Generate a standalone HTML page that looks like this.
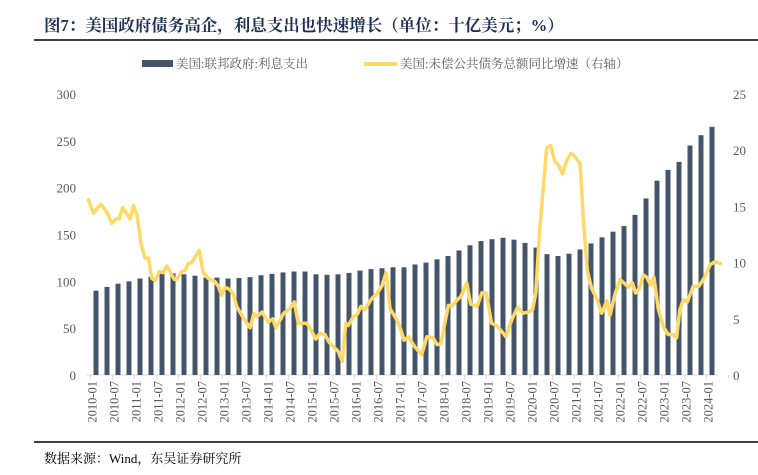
<!DOCTYPE html>
<html><head><meta charset="utf-8">
<style>
body{margin:0;background:#fff;}
svg text{font-family:"Liberation Serif","Noto Serif CJK SC",serif;}
</style></head>
<body>
<svg id="chart" width="758" height="470" viewBox="0 0 758 470" xmlns="http://www.w3.org/2000/svg">
<text x="44" y="31" font-size="16.5" font-weight="bold" fill="#1f3057">图7：美国政府债务高企，利息支出也快速增长（单位：十亿美元；%）</text>
<line x1="34" y1="40" x2="758" y2="40" stroke="#000" stroke-width="1.5"/>
<g>
<rect x="142" y="60" width="31" height="7" fill="#44546a"/>
<text x="176" y="68" font-size="12.5" fill="#595959">美国:联邦政府:利息支出</text>
<line x1="364" y1="64" x2="397" y2="64" stroke="#ffd966" stroke-width="4"/>
<text x="400" y="68" font-size="12.5" fill="#595959">美国:未偿公共债务总额同比增速（右轴）</text>
</g>
<g id="axes"></g>
<g id="bars"></g>
<g id="lines"></g>
<line x1="34" y1="442" x2="758" y2="442" stroke="#000" stroke-width="1.5"/>
<text x="44" y="463" font-size="13" fill="#000">数据来源：Wind，东吴证券研究所</text>
</svg>
<script>
const barValues=[90,94,97.5,100,103,105,108.5,108.5,107.5,106,104,104,103,103.5,104.5,106.5,108,109.5,110.5,110.5,107.5,107,107.5,109,111.5,113,114,115,115,118,120,123.5,127,133,138.5,143,145,146.5,144.5,141,136,129,127,129.5,134,140.5,147,153,159,171,188.5,207.5,219,227.5,245,256,265];
const lineMonths=[0.1,1.5,3.5,5.4,6.6,7.8,8.7,9.6,11.7,12.6,13.7,14.7,15.8,16.8,17.7,18.6,19.8,20.8,21.9,24.0,24.6,26.0,26.9,27.9,28.8,30.9,32.0,33.4,35.3,36.2,37.1,38.1,39.4,40.4,41.3,43.1,45.0,46.1,47.0,48.3,50.1,51.3,52.2,54.4,56.1,57.3,58.4,60.8,62.1,63.3,64.4,65.8,67.0,69.5,70.6,71.6,72.3,73.7,74.8,75.8,76.9,78.8,80.2,81.6,82.8,83.9,85.6,86.7,
87.8,89.0,90.8,92.7,94.1,95.9,97.0,98.0,100.1,101.0,102.6,103.6,105.2,106.3,108.1,109.4,110.6,112.1,113.5,114.9,116.1,117.7,119.3,120.9,122.3,123.5,124.4,125.4,126.5,127.4,128.5,129.7,130.6,131.8,133.0,134.1,134.8,136.7,137.6,138.7,139.9,141.3,142.7,144.1,145.0,146.4,147.8,149.2,150.1,151.2,152.1,153.1,154.3,155.2,156.3,157.2,158.4,159.8,161.2,162.4,163.5,164.4,165.4,166.5,168.1,169.7,171.1,172.8,174.2,175.7];
const lineValues=[15.6,14.4,15.2,14.4,13.5,13.9,13.9,14.9,13.9,15.1,14.1,11.7,10.4,10.4,8.6,8.4,9.2,9.1,9.7,8.5,8.5,9.2,9.3,9.9,10.0,11.1,9.1,8.6,8.3,7.9,7.1,7.8,7.6,7.2,6.1,5.1,4.2,5.5,5.2,5.6,4.7,5.0,4.2,5.5,5.9,6.5,4.6,4.6,3.9,3.2,3.7,3.6,2.9,2.1,1.2,4.6,4.4,5.2,5.4,6.1,5.8,6.8,7.2,7.9,9.1,5.9,5.0,4.2,
3.1,3.4,2.5,1.8,3.4,3.3,2.7,2.8,6.2,6.1,6.7,7.0,8.2,6.3,6.1,7.3,7.3,4.6,4.4,3.9,3.4,4.9,6.0,5.5,5.6,5.8,7.3,12.6,16.8,20.2,20.4,19.0,18.7,17.9,19.1,19.7,19.6,18.8,13.8,9.3,7.7,6.8,5.5,6.6,5.3,7.2,8.5,8.1,7.8,8.2,7.3,7.7,8.9,8.7,8.0,8.7,5.9,4.3,3.6,3.6,3.3,5.8,6.7,6.5,7.9,7.9,8.6,9.8,10.1,9.9];
const leftTicks=[0,50,100,150,200,250,300];
const rightTicks=[0,5,10,15,20,25];
const xLabels=["2010-01","2010-07","2011-01","2011-07","2012-01","2012-07","2013-01","2013-07","2014-01","2014-07","2015-01","2015-07","2016-01","2016-07","2017-01","2017-07","2018-01","2018-07","2019-01","2019-07","2020-01","2020-07","2021-01","2021-07","2022-01","2022-07","2023-01","2023-07","2024-01"];
const NS="http://www.w3.org/2000/svg";
const y0=375,yTop=94,xStart=87,xEnd=718;
const barStep=11;
const yL=v=>y0-(v/300)*(y0-yTop);
const yR=v=>y0-(v/25)*(y0-yTop);
const xBar=i=>96+i*barStep;
const xMonth=m=>88+m*3.6;
function mk(tag,attrs,parent){const e=document.createElementNS(NS,tag);for(const k in attrs)e.setAttribute(k,attrs[k]);parent.appendChild(e);return e;}
const axes=document.getElementById('axes');
leftTicks.forEach(v=>{const t=mk('text',{x:76,y:yL(v)+5,'text-anchor':'end','font-size':13,fill:'#595959'},axes);t.textContent=v;

});
rightTicks.forEach(v=>{const t=mk('text',{x:733,y:yR(v)+5,'text-anchor':'start','font-size':13,fill:'#595959'},axes);t.textContent=v;

});
const ax=mk('line',{x1:xStart,y1:y0,x2:xEnd,y2:y0,stroke:'#d9d9d9','stroke-width':1},axes);


for(let k=0;k<=29;k++){const x=xBar(0)-barStep/2+k*2*barStep;const tk=mk('line',{x1:x,y1:y0,x2:x,y2:y0+4,stroke:'#d9d9d9'},axes);

}
xLabels.forEach((s,k)=>{const x=xBar(2*k)+0.5;const t=mk('text',{x:0,y:0,transform:`translate(${x},381) rotate(-90)`,'text-anchor':'end','font-size':12.5,fill:'#595959'},axes);t.textContent=s;

});
const bars=document.getElementById('bars');
barValues.forEach((v,i)=>{const r=mk('rect',{x:xBar(i)-2.5,y:yL(v),width:5,height:y0-yL(v),fill:'#44546a'},bars);

});
const lines=document.getElementById('lines');
const pts=lineValues.map((v,i)=>xMonth(lineMonths[i]).toFixed(1)+','+yR(v).toFixed(1)).join(' ');
const pl=mk('polyline',{points:pts,fill:'none',stroke:'#ffd966','stroke-width':3.5,'stroke-linejoin':'round','stroke-linecap':'round'},lines);


</script>
</body></html>
